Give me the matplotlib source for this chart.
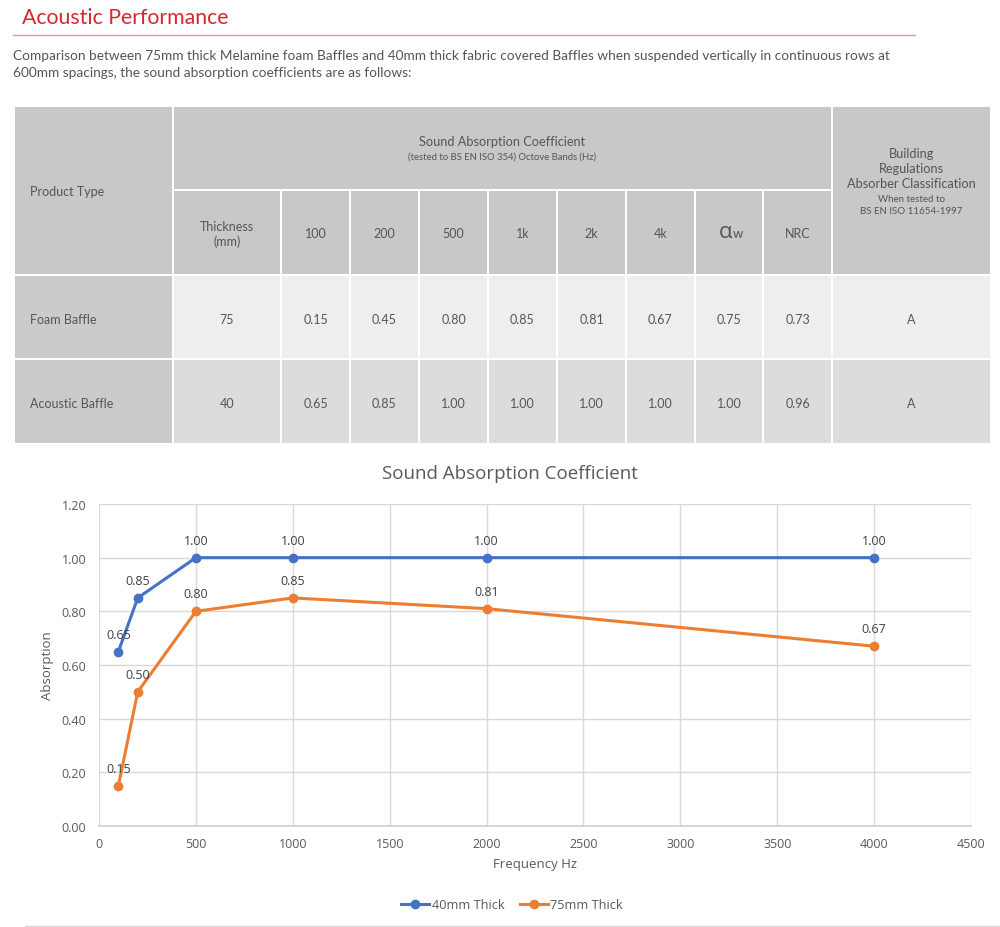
import matplotlib
matplotlib.use("Agg")
import matplotlib.pyplot as plt
from matplotlib.patches import Rectangle
from matplotlib.lines import Line2D

W, H = 1000, 928

# chart data -------------------------------------
freq_hz = [100, 200, 500, 1000, 2000, 4000]
thick_40mm = [0.65, 0.85, 1.00, 1.00, 1.00, 1.00]
thick_75mm = [0.15, 0.50, 0.80, 0.85, 0.81, 0.67]
series_names = ["40mm Thick", "75mm Thick"]
x_ticks = [0, 500, 1000, 1500, 2000, 2500, 3000, 3500, 4000, 4500]
y_ticks = [0.0, 0.2, 0.4, 0.6, 0.8, 1.0, 1.2]

# table data -------------------------------------
band_labels = ["100", "200", "500", "1k", "2k", "4k"]
product_names = ["Foam Baffle", "Acoustic Baffle"]
thickness_mm = ["75", "40"]
foam_values = ["0.15", "0.45", "0.80", "0.85", "0.81", "0.67", "0.75", "0.73"]
acoustic_values = ["0.65", "0.85", "1.00", "1.00", "1.00", "1.00", "1.00", "0.96"]
classification = ["A", "A"]

title_text = "Acoustic Performance"
intro_lines = [
    "Comparison between 75mm thick Melamine foam Baffles and 40mm thick fabric covered Baffles when suspended vertically in continuous rows at",
    "600mm spacings, the sound absorption coefficients are as follows:",
]

TXT = "#555555"
TFONT = "Lato"
CFONT = "Open Sans"


def fx(px):
    return px / W


def fy(py):
    return 1 - py / H


fig = plt.figure(figsize=(10, 9.28), dpi=100)

# heading ---------------------------------------
fig.text(fx(22), fy(18), title_text, color="#d7262d", fontsize=15.3, family=TFONT, va="center")
fig.add_artist(Line2D([fx(13), fx(915)], [fy(36), fy(36)], color="#dc9a9c", lw=1))
for i, line in enumerate(intro_lines):
    fig.text(fx(13), fy(56 + 17 * i), line, color=TXT, fontsize=9.85, family=TFONT, va="center")

# table -----------------------------------------
col_edges = [15, 174, 282, 351, 420, 489, 558, 627, 696, 764, 833, 992]
row_edges = [108, 192, 277, 361, 446]
gap = 2

tax = fig.add_axes([fx(15), fy(446), fx(992) - fx(15), fy(108) - fy(446)])
tax.set_xlim(15, 992)
tax.set_ylim(446, 108)
tax.axis("off")

HEAD = "#c8c8c8"
SIDE = "#cbcbcb"
ROW_LIGHT = "#eeeeee"
ROW_MID = "#dcdcdc"


def cell(c0, c1, r0, r1, color):
    x0, x1 = col_edges[c0], col_edges[c1] - gap
    y0, y1 = row_edges[r0], row_edges[r1] - gap
    tax.add_patch(Rectangle((x0, y0), x1 - x0, y1 - y0, facecolor=color, edgecolor="none"))
    return (x0 + x1) / 2, (y0 + y1) / 2


def put(x, y, s, size=9, ha="center"):
    tax.text(x, y, s, ha=ha, va="center", fontsize=size, color=TXT, family=TFONT)


# header rows
cx, cy = cell(0, 1, 0, 2, HEAD)
put(30, cy + 1, "Product Type", ha="left")
cx, cy = cell(1, 10, 0, 1, HEAD)
put(cx, 142, "Sound Absorption Coefficient", size=9.2)
put(cx, 157, "(tested to BS EN ISO 354) Octove Bands (Hz)", size=6.8)
cx, cy = cell(10, 11, 0, 2, HEAD)
for yy, s in zip([154, 169, 184], ["Building", "Regulations", "Absorber Classification"]):
    put(cx, yy, s, size=9.2)
put(cx, 199, "When tested to", size=7)
put(cx, 212, "BS EN ISO 11654-1997", size=7)

sub_labels = ["Thickness\n(mm)"] + band_labels + ["", "NRC"]
for i, lab in enumerate(sub_labels):
    cx, cy = cell(i + 1, i + 2, 1, 2, HEAD)
    if i == 7:
        tax.text(cx - 3, cy + 5, "α", ha="center", va="baseline", fontsize=16, color=TXT, family=CFONT)
        tax.text(cx + 9, cy + 5, "w", ha="center", va="baseline", fontsize=9.5, color=TXT, family=TFONT)
    else:
        tax.text(cx, cy + 1, lab, ha="center", va="center", fontsize=9, color=TXT, family=TFONT,
                 linespacing=1.25)

# body rows
for r, (name, thick, vals, cls, fill) in enumerate(zip(
        product_names, thickness_mm, [foam_values, acoustic_values], classification,
        [ROW_LIGHT, ROW_MID])):
    cx, cy = cell(0, 1, r + 2, r + 3, SIDE)
    put(30, cy + 1.5, name, ha="left")
    row_cells = [thick] + vals + [cls]
    for c, s in enumerate(row_cells):
        cx, cy = cell(c + 1, c + 2, r + 2, r + 3, fill)
        put(cx, cy + 1.5, s)

# chart -----------------------------------------
ax = fig.add_axes([fx(99), fy(827), fx(971) - fx(99), fy(505) - fy(827)])
colors = ["#4472C4", "#ED7D31"]
for vals, name, col in zip([thick_40mm, thick_75mm], series_names, colors):
    ax.plot(freq_hz, vals, color=col, lw=2.2, marker="o", ms=6, label=name, zorder=3)
    for xv, yv in zip(freq_hz, vals):
        ax.annotate(f"{yv:.2f}", (xv, yv), xytext=(0, 12.5), textcoords="offset points",
                    ha="center", va="center", fontsize=9, color="#404040", family=CFONT)

ax.set_xlim(0, 4500)
ax.set_ylim(0, 1.2)
ax.set_xticks(x_ticks)
ax.set_yticks(y_ticks)
ax.set_yticklabels([f"{v:.2f}" for v in y_ticks])
ax.grid(True, color="#d9d9d9", lw=1)
ax.set_axisbelow(True)
for side in ["top", "right", "left"]:
    ax.spines[side].set_visible(False)
ax.spines["bottom"].set_color("#d0d0d0")
ax.spines["bottom"].set_linewidth(1.2)
ax.tick_params(length=0, labelcolor="#595959", labelsize=9)
ax.tick_params(axis="y", pad=9)
ax.tick_params(axis="x", pad=8)
for lab in ax.get_xticklabels() + ax.get_yticklabels():
    lab.set_family(CFONT)

ax.set_ylabel("Absorption", fontsize=9.5, color="#595959", family=CFONT)
ax.yaxis.set_label_coords(-0.052, 0.5)
ax.set_xlabel("Frequency Hz", fontsize=9.5, color="#595959", family=CFONT)
ax.xaxis.set_label_coords(0.5, -0.095)

fig.text(fx(510), fy(474), "Sound Absorption Coefficient", fontsize=13.5, color="#595959",
         family=CFONT, ha="center", va="center")

leg = fig.legend(loc="center", bbox_to_anchor=(fx(512), fy(906)), ncol=2, frameon=False,
                 prop={"family": CFONT, "size": 9.2}, handlelength=2.2, columnspacing=1.2,
                 handletextpad=0.2)
for t in leg.get_texts():
    t.set_color("#595959")

fig.add_artist(Line2D([fx(25), fx(1000)], [fy(926.5), fy(926.5)], color="#d9d9d9", lw=1))

fig.savefig("out.png", dpi=100)
